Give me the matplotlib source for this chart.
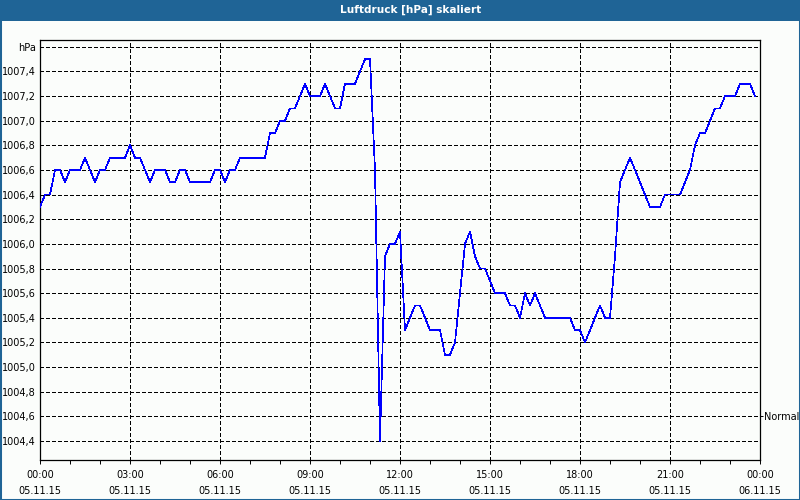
import numpy as np
import matplotlib
matplotlib.use("Agg")
import matplotlib.pyplot as plt
from matplotlib.patches import Rectangle

plt.rcParams['font.family'] = ['DejaVu Sans']
plt.rcParams['lines.scale_dashes'] = False

# Air pressure readings, every 10 minutes from 05.11.15 00:00
pressure = [
    1006.3, 1006.4, 1006.4, 1006.6, 1006.6, 1006.5,   # 00:00
    1006.6, 1006.6, 1006.6, 1006.7, 1006.6, 1006.5,   # 01:00
    1006.6, 1006.6, 1006.7, 1006.7, 1006.7, 1006.7,   # 02:00
    1006.8, 1006.7, 1006.7, 1006.6, 1006.5, 1006.6,   # 03:00
    1006.6, 1006.6, 1006.5, 1006.5, 1006.6, 1006.6,   # 04:00
    1006.5, 1006.5, 1006.5, 1006.5, 1006.5, 1006.6,   # 05:00
    1006.6, 1006.5, 1006.6, 1006.6, 1006.7, 1006.7,   # 06:00
    1006.7, 1006.7, 1006.7, 1006.7, 1006.9, 1006.9,   # 07:00
    1007.0, 1007.0, 1007.1, 1007.1, 1007.2, 1007.3,   # 08:00
    1007.2, 1007.2, 1007.2, 1007.3, 1007.2, 1007.1,   # 09:00
    1007.1, 1007.3, 1007.3, 1007.3, 1007.4, 1007.5,   # 10:00
    1007.5, 1006.6, 1004.4, 1005.9, 1006.0, 1006.0,   # 11:00
    1006.1, 1005.3, 1005.4, 1005.5, 1005.5, 1005.4,   # 12:00
    1005.3, 1005.3, 1005.3, 1005.1, 1005.1, 1005.2,   # 13:00
    1005.6, 1006.0, 1006.1, 1005.9, 1005.8, 1005.8,   # 14:00
    1005.7, 1005.6, 1005.6, 1005.6, 1005.5, 1005.5,   # 15:00
    1005.4, 1005.6, 1005.5, 1005.6, 1005.5, 1005.4,   # 16:00
    1005.4, 1005.4, 1005.4, 1005.4, 1005.4, 1005.3,   # 17:00
    1005.3, 1005.2, 1005.3, 1005.4, 1005.5, 1005.4,   # 18:00
    1005.4, 1005.9, 1006.5, 1006.6, 1006.7, 1006.6,   # 19:00
    1006.5, 1006.4, 1006.3, 1006.3, 1006.3, 1006.4,   # 20:00
    1006.4, 1006.4, 1006.4, 1006.5, 1006.6, 1006.8,   # 21:00
    1006.9, 1006.9, 1007.0, 1007.1, 1007.1, 1007.2,   # 22:00
    1007.2, 1007.2, 1007.3, 1007.3, 1007.3, 1007.2,   # 23:00
]
interval_minutes = 10
hours = np.arange(len(pressure)) * interval_minutes / 60.0

x_tick_hours = [0, 3, 6, 9, 12, 15, 18, 21, 24]
x_tick_labels = ["00:00\n05.11.15", "03:00\n05.11.15", "06:00\n05.11.15",
                 "09:00\n05.11.15", "12:00\n05.11.15", "15:00\n05.11.15",
                 "18:00\n05.11.15", "21:00\n05.11.15", "00:00\n06.11.15"]
y_ticks = [1004.4, 1004.6, 1004.8, 1005.0, 1005.2, 1005.4, 1005.6, 1005.8,
           1006.0, 1006.2, 1006.4, 1006.6, 1006.8, 1007.0, 1007.2, 1007.4, 1007.6]
y_tick_labels = ["1004,4", "1004,6", "1004,8", "1005,0", "1005,2", "1005,4",
                 "1005,6", "1005,8", "1006,0", "1006,2", "1006,4", "1006,6",
                 "1006,8", "1007,0", "1007,2", "1007,4", "hPa"]
normal_level = [1004.6]
normal_label = ["Normal"]
title = "Luftdruck [hPa] skaliert"

bg = '#fbfdfb'
bar = '#1f6496'

fig = plt.figure(figsize=(8, 5), dpi=100, facecolor=bg)
fig.patches.append(Rectangle((0, 1 - 21/500), 1, 21/500, transform=fig.transFigure,
                             facecolor=bar, edgecolor='none', zorder=0))
fig.patches.append(Rectangle((0, 0), 1, 1, transform=fig.transFigure, fill=False,
                             edgecolor=bar, linewidth=2.2, zorder=5))
fig.text(411/800, 1 - 10/500, title, color='white', fontsize=7.6, fontweight='bold',
         ha='center', va='center')

ax = fig.add_axes([40/800, 40/500, 720/800, 420/500])
ax.set_facecolor(bg)
ax.plot(hours, pressure, color='#0000ff', linewidth=0.5, antialiased=False, zorder=3)

ax.set_xlim(0, 24)
ax.set_ylim(1004.246, 1007.655)
ax.set_xticks(x_tick_hours)
ax.set_xticklabels(x_tick_labels, fontsize=7, linespacing=1.75)
ax.set_xticks(np.arange(0, 25, 1), minor=True)
ax.set_yticks(y_ticks)
ax.set_yticklabels(y_tick_labels, fontsize=7)
ax.tick_params(axis='y', length=0, pad=3)
ax.tick_params(axis='x', which='both', length=3, width=0.7, direction='out', pad=4)
ax.grid(True, which='major', color='black', linestyle=(0, (2.2, 1.6)),
        linewidth=0.7, antialiased=False)
for s in ax.spines.values():
    s.set_linewidth(0.9)
    s.set_color('black')

ax2 = ax.twinx()
ax2.set_ylim(ax.get_ylim())
ax2.set_yticks(normal_level)
ax2.set_yticklabels(normal_label, fontsize=7)
ax2.tick_params(axis='y', length=2, width=0.7, pad=1)
for s in ax2.spines.values():
    s.set_visible(False)

fig.savefig("out.png", dpi=100, facecolor=bg)
